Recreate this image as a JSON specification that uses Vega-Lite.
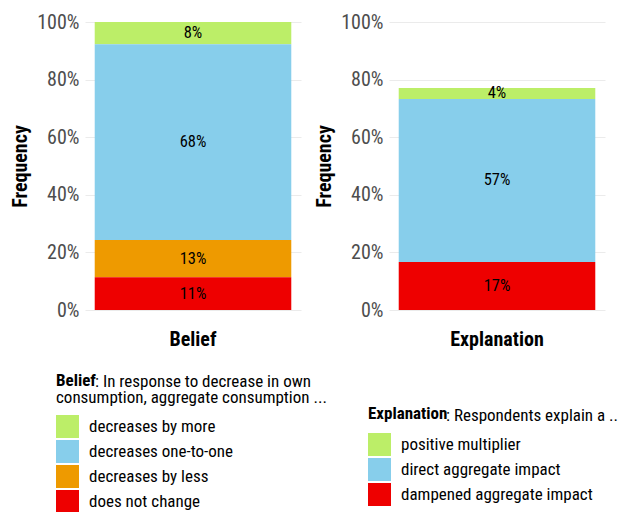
{
  "$schema": "https://vega.github.io/schema/vega-lite/v6.json",
  "padding": {"left": 10, "top": 12, "right": 5, "bottom": 0},
  "data": {
    "values": [
      {"panel": "Belief", "cat": "decreases by more", "v": 0.077, "label": "8%", "o": 4},
      {"panel": "Belief", "cat": "decreases one-to-one", "v": 0.680, "label": "68%", "o": 3},
      {"panel": "Belief", "cat": "decreases by less", "v": 0.129, "label": "13%", "o": 2},
      {"panel": "Belief", "cat": "does not change", "v": 0.114, "label": "11%", "o": 1},
      {"panel": "Explanation", "cat": "positive multiplier", "v": 0.038, "label": "4%", "o": 3},
      {"panel": "Explanation", "cat": "direct aggregate impact", "v": 0.566, "label": "57%", "o": 2},
      {"panel": "Explanation", "cat": "dampened aggregate impact", "v": 0.167, "label": "17%", "o": 1}
    ]
  },
  "bounds": "flush",
  "spacing": 88,
  "resolve": {"scale": {"color": "independent", "x": "independent", "y": "independent"}, "legend": {"color": "independent"}},
  "hconcat": [
    {
      "width": 216,
      "height": 288,
      "title": {"text": "Belief", "orient": "top", "anchor": "start", "frame": "group", "dx": -29, "dy": 382, "fontWeight": "bold", "fontSize": 17, "color": "black"},
      "transform": [
        {"filter": "datum.panel === 'Belief'"},
        {"stack": "v", "groupby": ["panel"], "sort": [{"field": "o", "order": "ascending"}], "as": ["y0", "y1"]},
        {"calculate": "(datum.y0 + datum.y1) / 2", "as": "mid"}
      ],
      "layer": [
        {
          "mark": {"type": "bar"},
          "encoding": {
            "x": {"field": "panel", "type": "nominal", "scale": {"paddingInner": 0.09, "paddingOuter": 0.045},
                  "axis": {"title": null, "labelAngle": 0, "labelFontWeight": "bold", "labelFontSize": 20, "labelColor": "black", "ticks": false, "domain": false, "labelPadding": 19, "grid": false}},
            "y": {"field": "y0", "type": "quantitative", "scale": {"domain": [0, 1]},
                  "axis": {"title": "Frequency", "format": ".0%", "values": [0, 0.2, 0.4, 0.6, 0.8, 1]}},
            "y2": {"field": "y1"},
            "color": {"field": "cat", "type": "nominal",
                      "scale": {"domain": ["decreases by more", "decreases one-to-one", "decreases by less", "does not change"],
                                "range": ["#BCEE68", "#87CEEB", "#EE9A00", "#EE0000"]},
                      "legend": {"orient": "none", "legendX": -29, "legendY": 352,
                                 "title": ["\u2060\u00a0\u00a0\u00a0\u00a0\u00a0\u00a0\u00a0\u00a0\u00a0\u00a0: In response to decrease in own", "consumption, aggregate consumption ..."]}}
          }
        },
        {
          "mark": {"type": "text", "fontSize": 16.5, "color": "black"},
          "encoding": {
            "x": {"field": "panel", "type": "nominal"},
            "y": {"field": "mid", "type": "quantitative"},
            "text": {"field": "label"}
          }
        }
      ]
    },
    {
      "width": 216,
      "height": 288,
      "title": {"text": "Explanation", "orient": "top", "anchor": "start", "frame": "group", "dx": -21, "dy": 415, "fontWeight": "bold", "fontSize": 17, "color": "black"},
      "transform": [
        {"filter": "datum.panel === 'Explanation'"},
        {"stack": "v", "groupby": ["panel"], "sort": [{"field": "o", "order": "ascending"}], "as": ["y0", "y1"]},
        {"calculate": "(datum.y0 + datum.y1) / 2", "as": "mid"}
      ],
      "layer": [
        {
          "mark": {"type": "bar"},
          "encoding": {
            "x": {"field": "panel", "type": "nominal", "scale": {"paddingInner": 0.09, "paddingOuter": 0.045},
                  "axis": {"title": null, "labelAngle": 0, "labelFontWeight": "bold", "labelFontSize": 20, "labelColor": "black", "ticks": false, "domain": false, "labelPadding": 19, "grid": false}},
            "y": {"field": "y0", "type": "quantitative", "scale": {"domain": [0, 1]},
                  "axis": {"title": "Frequency", "format": ".0%", "values": [0, 0.2, 0.4, 0.6, 0.8, 1]}},
            "y2": {"field": "y1"},
            "color": {"field": "cat", "type": "nominal",
                      "scale": {"domain": ["positive multiplier", "direct aggregate impact", "dampened aggregate impact"],
                                "range": ["#BCEE68", "#87CEEB", "#EE0000"]},
                      "legend": {"orient": "none", "legendX": -21, "legendY": 386,
                                 "title": "\u2060\u00a0\u00a0\u00a0\u00a0\u00a0\u00a0\u00a0\u00a0\u00a0\u00a0\u00a0\u00a0\u00a0\u00a0\u00a0\u00a0\u00a0\u00a0\u00a0\u00a0: Respondents explain a .."}}
          }
        },
        {
          "mark": {"type": "text", "fontSize": 16.5, "color": "black"},
          "encoding": {
            "x": {"field": "panel", "type": "nominal"},
            "y": {"field": "mid", "type": "quantitative"},
            "text": {"field": "label"}
          }
        }
      ]
    }
  ],
  "config": {
    "font": "Roboto Condensed, Liberation Sans Narrow, Roboto",
    "view": {"stroke": null},
    "axisY": {"grid": true, "gridColor": "#EBEBEB", "gridWidth": 1, "domain": false, "ticks": false, "labelColor": "#4D4D4D", "labelFontSize": 20, "labelPadding": 6, "titleFontSize": 20, "titleFontWeight": "bold", "titleColor": "black", "titlePadding": 6},
    "legend": {"symbolType": "square", "symbolSize": 529, "symbolStrokeWidth": 0, "symbolOpacity": 1, "rowPadding": 2, "labelFontSize": 17, "labelColor": "black", "labelOffset": 10, "titleFontSize": 17, "titleFontWeight": "normal", "titleColor": "black", "titlePadding": 8, "titleLimit": 400, "labelLimit": 400, "titleLineHeight": 16}
  }
}
